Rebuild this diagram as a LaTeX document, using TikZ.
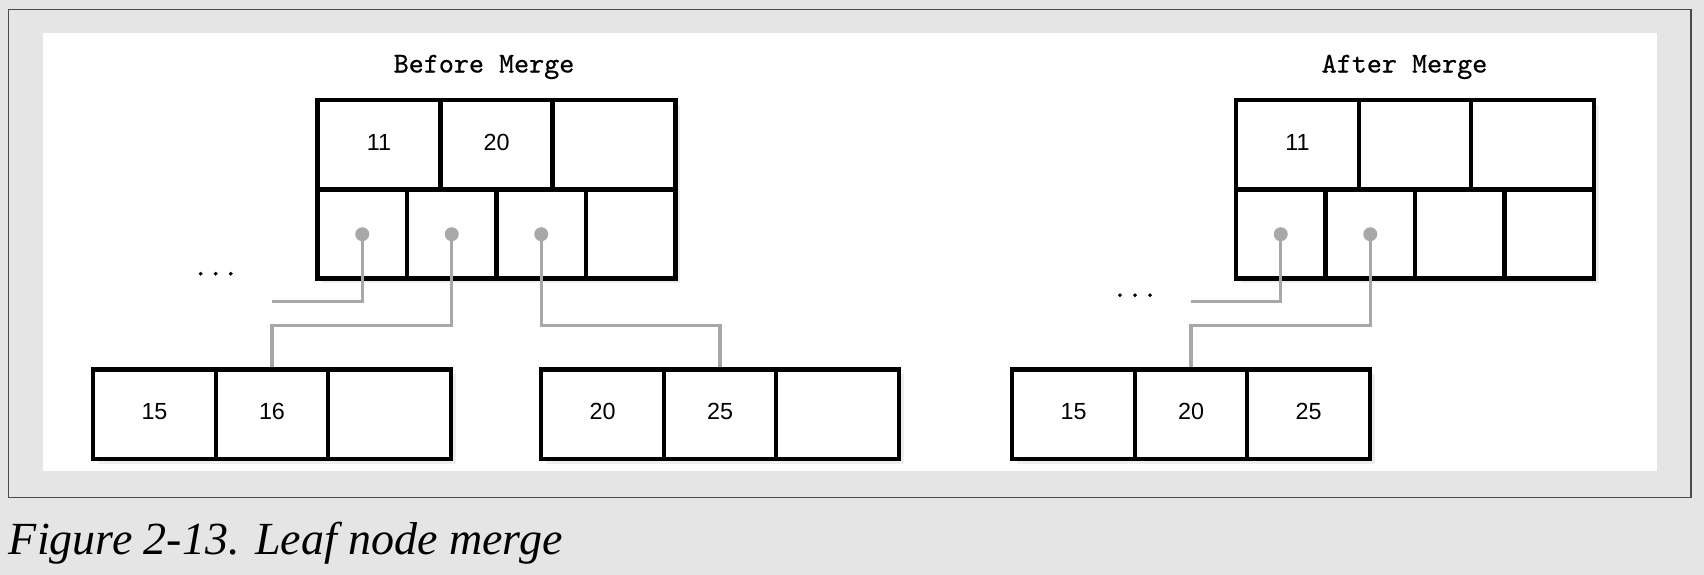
\documentclass[tikz,border=0pt]{standalone}
\usepackage{fontspec}
\usepackage{tikz}
\usetikzlibrary{positioning,shadows}
\newfontfamily\numfont{Liberation Sans}
\newfontfamily\capfont{Liberation Serif}
\newfontfamily\headfont{lmmono10-regular}[Extension=.otf,FakeBold=0.6]
\definecolor{pagegray}{HTML}{E5E5E5}
\definecolor{framegray}{HTML}{4A4A4A}
\definecolor{ptrgray}{HTML}{A8A8A8}

\begin{document}
\begin{tikzpicture}[x=0.75pt,y=-0.75pt,
    cell/.style={draw,fill=white,line width=3.7pt,outer sep=0pt,inner sep=0pt,minimum height=67.1pt,text depth=3.8pt,
      font=\numfont\fontsize{17.5}{20}\selectfont,drop shadow={opacity=0.13,shadow xshift=3.4pt,shadow yshift=-3.4pt}},
    keycell/.style={cell,minimum width=92.25pt},
    midcell/.style={cell,minimum width=84pt},
    ptrcell/.style={cell,minimum width=67.125pt},
    ptrdot/.style={circle,fill=ptrgray,inner sep=0pt,minimum size=10.5pt},
    link/.style={draw=ptrgray,line width=2.3pt},
    heading/.style={anchor=base,inner sep=0pt,font=\headfont\fontsize{21.5}{25}\selectfont}]
  \useasboundingbox (0,0) rectangle (1704,575);
  % page and frame
  \fill[pagegray] (0,0) rectangle (1704,575);
  \draw[framegray,line width=1pt] (8.8,9.5) rectangle (1691,497.7);
  \fill[white] (43,32.7) rectangle (1657,471);

  % before merge
  \node[heading] (btitle) at (484,72.5) {Before Merge};
  \node[keycell,anchor=north west] (bk1) at (317.5,100) {11};
  \node[midcell,right=0pt of bk1] (bk2) {20};
  \node[keycell,right=0pt of bk2] (bk3) {};
  \node[ptrcell,anchor=north west] (bp1) at (bk1.south west) {};
  \node[ptrcell,right=0pt of bp1] (bp2) {};
  \node[ptrcell,right=0pt of bp2] (bp3) {};
  \node[ptrcell,right=0pt of bp3] (bp4) {};
  \node[heading] (bmore) at (215.7,275.5) {...};

  \node[keycell,anchor=north west] (la1) at (93,369.5) {15};
  \node[midcell,right=0pt of la1] (la2) {16};
  \node[keycell,right=0pt of la2] (la3) {};
  \node[keycell,anchor=north west] (lb1) at (541,369.5) {20};
  \node[midcell,right=0pt of lb1] (lb2) {25};
  \node[keycell,right=0pt of lb2] (lb3) {};

  \coordinate (bstub) at (271.5,301.5);
  \draw[link] (bp1.center) |- (bstub);
  \draw[link,shorten >=1.85pt] (bp2.center) -- ++(0,91) -| (la2.north);
  \draw[link,shorten >=1.85pt] (bp3.center) -- ++(0,91) -| (lb2.north);
  \foreach \p in {bp1,bp2,bp3}
    \node[ptrdot] (\p dot) at (\p.center) {};

  % after merge
  \node[heading] (atitle) at (1404.5,72.5) {After Merge};
  \node[keycell,anchor=north west] (ak1) at (1236,100) {11};
  \node[midcell,right=0pt of ak1] (ak2) {};
  \node[keycell,right=0pt of ak2] (ak3) {};
  \node[ptrcell,anchor=north west] (ap1) at (ak1.south west) {};
  \node[ptrcell,right=0pt of ap1] (ap2) {};
  \node[ptrcell,right=0pt of ap2] (ap3) {};
  \node[ptrcell,right=0pt of ap3] (ap4) {};
  \node[heading] (amore) at (1135,297) {...};

  \node[keycell,anchor=north west] (lc1) at (1012,369.5) {15};
  \node[midcell,right=0pt of lc1] (lc2) {20};
  \node[keycell,right=0pt of lc2] (lc3) {25};

  \coordinate (astub) at (1191,301.5);
  \draw[link] (ap1.center) |- (astub);
  \draw[link,shorten >=1.85pt] (ap2.center) -- ++(0,91) -| (lc2.north);
  \foreach \p in {ap1,ap2}
    \node[ptrdot] (\p dot) at (\p.center) {};

  % caption
  \node[anchor=base west,inner sep=0pt,font=\capfont\itshape\fontsize{34.5}{40}\selectfont] (caption) at (8.7,554) {Figure 2-13. Leaf node merge};
\end{tikzpicture}
\end{document}
